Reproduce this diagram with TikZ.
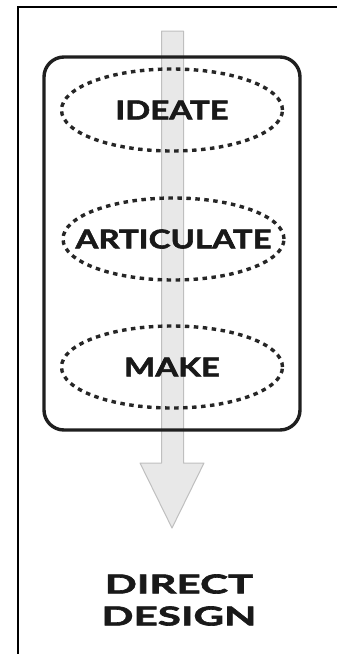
\documentclass[tikz,border=0pt]{standalone}
\usepackage{fontspec}
\setmainfont{Lato}[FakeStretch=1.27, BoldFeatures={FakeBold=2.2}]
\newfontfamily\outcomefont{Lato}[FakeStretch=1.62, BoldFeatures={FakeBold=2.4}]
\usetikzlibrary{shapes.geometric}
\begin{document}
\begin{tikzpicture}[x=1pt,y=-1pt,
  labeltext/.style={font=\bfseries\fontsize{26}{32}\selectfont, text=black!90, inner sep=0pt},
  outcometext/.style={font=\outcomefont\bfseries\fontsize{26}{32}\selectfont, text=black!90,
    inner sep=0pt, align=center},
  stage/.style={ellipse, draw=black!85, line width=3.4pt,
    dash pattern=on 4.5pt off 4.5pt, minimum width=221pt, minimum height=82pt,
    inner sep=0pt},
  group/.style={draw=black!88, line width=3.4pt, rounded corners=20pt,
    minimum width=256pt, minimum height=373pt},
  flow/.style={fill=black!9, draw=black!25, line width=1pt, line join=round}]
\useasboundingbox (0,0) rectangle (337,654);
% page frame: top and left rules only
\draw[line width=2.6pt] (18,654) -- (18,7) -- (337,7);
% downward arrow behind the process box
\coordinate (tip) at (172,528);
\draw[flow] (161.5,31) -- (183.5,31) -- (183.5,463) -- (204,463)
  -- (tip) -- (140,463) -- (161.5,463) -- cycle;
% process box and its stages
\node[group] (box) at (172,243.5) {};
\node[stage] (ideate) at (172,110) {};
\node[stage] (articulate) at (173.5,239) {};
\node[stage] (make) at (172,367) {};
\node[labeltext] (ideate-text) at (ideate) {IDEATE};
\node[labeltext] (articulate-text) at (articulate) {ARTICULATE};
\node[labeltext] (make-text) at (make) {MAKE};
% outcome
\node[outcometext] (outcome) at (179,600) {DIRECT\\DESIGN};
\end{tikzpicture}
\end{document}
